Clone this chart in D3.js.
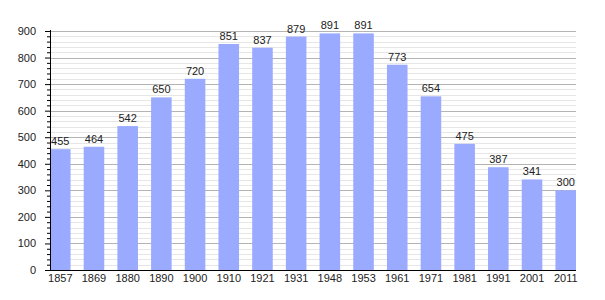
<!DOCTYPE html>
<html>
<head>
<meta charset="utf-8">
<script src="https://cdn.jsdelivr.net/npm/d3@7"></script>
<style>
  body { margin: 0; background: #fff; }
  text { font-family: "Liberation Sans", Arial, sans-serif; }
</style>
</head>
<body>
<div id="chart"></div>
<script>
// Population by census year
const years = ["1857", "1869", "1880", "1890", "1900", "1910", "1921", "1931",
               "1948", "1953", "1961", "1971", "1981", "1991", "2001", "2011"];
const population = [455, 464, 542, 650, 720, 851, 837, 879, 891, 891, 773, 654, 475, 387, 341, 300];
const yTicks = [0, 100, 200, 300, 400, 500, 600, 700, 800, 900];

const width = 605, height = 300;
const plot = { left: 50, right: 576, top: 31, bottom: 270 };

const svg = d3.select("#chart").append("svg")
    .attr("width", width)
    .attr("height", height);

const x = d3.scaleBand()
    .domain(years)
    .range([plot.left, plot.right])
    .paddingInner(0.39)
    .paddingOuter(0);

const y = d3.scaleLinear()
    .domain([0, 900])
    .range([plot.bottom, plot.top]);

const minorTicks = d3.range(0, 901, 20).filter(v => v % 100 !== 0);

// minor grid
svg.append("g").selectAll("line")
    .data(minorTicks)
    .join("line")
    .attr("x1", plot.left).attr("x2", plot.right)
    .attr("y1", d => Math.round(y(d)) + 0.5).attr("y2", d => Math.round(y(d)) + 0.5)
    .attr("stroke", "#e6e6e6");

// major grid
svg.append("g").selectAll("line")
    .data(yTicks.filter(d => d > 0))
    .join("line")
    .attr("x1", plot.left).attr("x2", plot.right)
    .attr("y1", d => Math.round(y(d)) + 0.5).attr("y2", d => Math.round(y(d)) + 0.5)
    .attr("stroke", "#b4b4b4");

// bars
svg.append("g").selectAll("rect")
    .data(population)
    .join("rect")
    .attr("x", (d, i) => x(years[i]))
    .attr("width", x.bandwidth())
    .attr("y", d => y(d))
    .attr("height", d => y(0) - y(d))
    .attr("fill", "#99aaff");

// value labels
svg.append("g").selectAll("text")
    .data(population)
    .join("text")
    .attr("x", (d, i) => x(years[i]) + x.bandwidth() / 2)
    .attr("y", d => y(d) - 4)
    .attr("text-anchor", "middle")
    .attr("font-size", 11)
    .attr("fill", "#222")
    .text(d => d);

// y axis
const yAxis = svg.append("g")
    .attr("transform", `translate(${plot.left},0)`)
    .call(d3.axisLeft(y).tickValues(yTicks).tickSize(5).tickPadding(9).tickFormat(d3.format("d")));
yAxis.select(".domain").remove();
yAxis.selectAll("text").attr("font-size", 11).attr("fill", "#222").style("font-family", "Liberation Sans, Arial, sans-serif");

svg.append("g")
    .attr("transform", `translate(${plot.left},0)`)
    .call(d3.axisLeft(y).tickValues(minorTicks).tickSize(3).tickFormat(""))
    .select(".domain").remove();

svg.append("line")
    .attr("x1", plot.left + 0.5).attr("x2", plot.left + 0.5)
    .attr("y1", plot.top - 1).attr("y2", plot.bottom)
    .attr("stroke", "#000");

// x axis
const xAxis = svg.append("g")
    .attr("transform", `translate(0,${plot.bottom})`)
    .call(d3.axisBottom(x).tickSize(0).tickPadding(4));
xAxis.select(".domain").remove();
xAxis.selectAll("text").attr("font-size", 11).attr("fill", "#222").style("font-family", "Liberation Sans, Arial, sans-serif");

svg.append("line")
    .attr("x1", plot.left).attr("x2", plot.right)
    .attr("y1", plot.bottom + 0.5).attr("y2", plot.bottom + 0.5)
    .attr("stroke", "#000");
</script>
</body>
</html>
